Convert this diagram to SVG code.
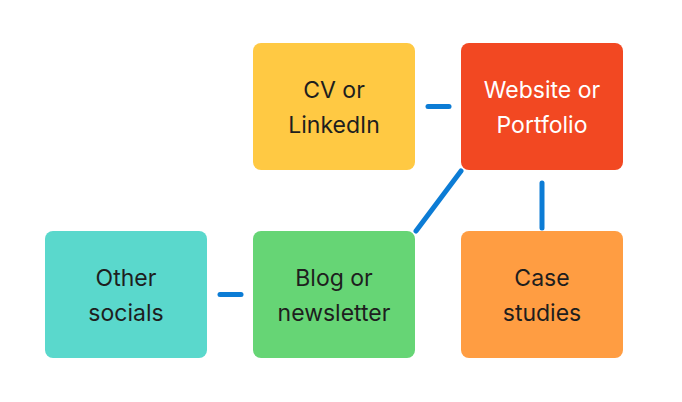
<svg xmlns="http://www.w3.org/2000/svg" width="682" height="402" viewBox="0 0 682 402">
<style>
.n{stroke:none}
.t{font-family:Inter,"Noto Sans",sans-serif;font-size:23px;fill:#1E1E1E;text-anchor:middle}
.w{fill:#FFFFFF}
.c{stroke:#0C7CD5;stroke-width:5;stroke-linecap:round;fill:none}
</style>
<rect width="682" height="402" fill="#FFFFFF"/>
<g id="connectors">
<line class="c" x1="428" y1="106.5" x2="449" y2="106.5"/>
<line class="c" x1="461" y1="171" x2="416" y2="231"/>
<line class="c" x1="542" y1="183" x2="542" y2="228"/>
<line class="c" x1="220" y1="294.5" x2="241" y2="294.5"/>
</g>
<g id="cv">
<rect class="n" x="253" y="43" width="162" height="127" rx="8" fill="#FFC943"/>
<text class="t" x="334" y="98">CV or</text>
<text class="t" x="334" y="133">LinkedIn</text>
</g>
<g id="website">
<rect class="n" x="461" y="43" width="162" height="127" rx="8" fill="#F24822"/>
<text class="t w" x="542" y="98">Website or</text>
<text class="t w" x="542" y="133">Portfolio</text>
</g>
<g id="other">
<rect class="n" x="45" y="231" width="162" height="127" rx="8" fill="#5AD8CC"/>
<text class="t" x="126" y="286">Other</text>
<text class="t" x="126" y="321">socials</text>
</g>
<g id="blog">
<rect class="n" x="253" y="231" width="162" height="127" rx="8" fill="#66D575"/>
<text class="t" x="334" y="286">Blog or</text>
<text class="t" x="334" y="321">newsletter</text>
</g>
<g id="case">
<rect class="n" x="461" y="231" width="162" height="127" rx="8" fill="#FF9D42"/>
<text class="t" x="542" y="286">Case</text>
<text class="t" x="542" y="321">studies</text>
</g>
</svg>
